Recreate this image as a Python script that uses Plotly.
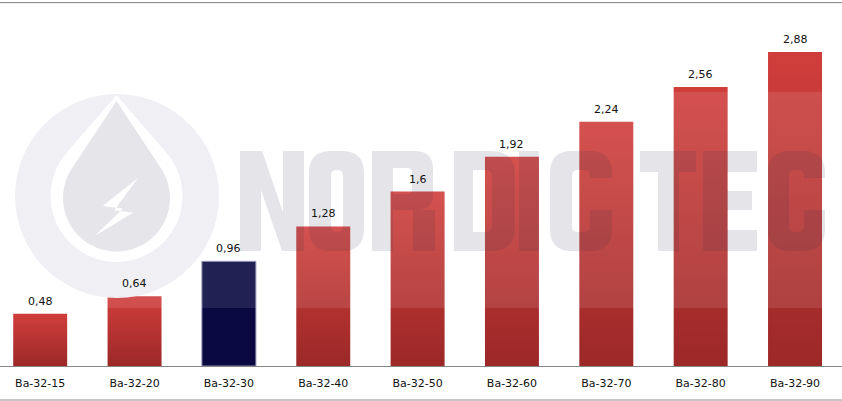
import plotly.graph_objects as go
import numpy as np

# data
models = ["Ba-32-15", "Ba-32-20", "Ba-32-30", "Ba-32-40", "Ba-32-50",
          "Ba-32-60", "Ba-32-70", "Ba-32-80", "Ba-32-90"]
capacity = [0.48, 0.64, 0.96, 1.28, 1.6, 1.92, 2.24, 2.56, 2.88]
highlight = "Ba-32-30"

W, H = 842, 401
TOP, BASE = 3, 366          # plot area rows in pixels
BAR_W = 0.572               # bar width in category units

RED_TOP, RED_BOTTOM = "#d03e3b", "#9c2828"
NAVY = "#0a0840"
WM_COLOR = "rgba(40,40,70,0.12)"


def to_paper(x, y):
    """pixel position -> paper coords of the plot area"""
    return f"{x / W:.5f},{(BASE - y) / (BASE - TOP):.5f}"


def rrect(x0, y0, x1, y1, r=(0, 0, 0, 0)):
    """rounded rectangle path (pixels), corners tl, tr, br, bl"""
    tl, tr, br, bl = r
    p = to_paper
    return (f"M{p(x0 + tl, y0)} L{p(x1 - tr, y0)} Q{p(x1, y0)} {p(x1, y0 + tr)} "
            f"L{p(x1, y1 - br)} Q{p(x1, y1)} {p(x1 - br, y1)} "
            f"L{p(x0 + bl, y1)} Q{p(x0, y1)} {p(x0, y1 - bl)} "
            f"L{p(x0, y0 + tl)} Q{p(x0, y0)} {p(x0 + tl, y0)} Z ")


def poly(points):
    return "M" + " L".join(to_paper(x, y) for x, y in points) + " Z "


def drop(cx, cy, r, tip_y, n=60):
    """water drop: tip on top, round bottom"""
    a = np.arccos(r / (cy - tip_y))
    th = np.linspace(a, 2 * np.pi - a, n)
    pts = [(cx, tip_y)] + [(cx + r * np.sin(t), cy - r * np.cos(t)) for t in th]
    return poly(pts)


fig = go.Figure()

# bars with a vertical gradient
for i, (m, v) in enumerate(zip(models, capacity)):
    hw = BAR_W / 2
    if m == highlight:
        grad = [[0, NAVY], [1, NAVY]]
        line = dict(color="rgba(140,140,175,1)", width=1)
    else:
        grad = [[0, RED_BOTTOM], [1, RED_TOP]]
        line = dict(width=0)
    fig.add_trace(go.Scatter(
        x=[i - hw, i - hw, i + hw, i + hw, i - hw],
        y=[0, v, v, 0, 0],
        mode="lines",
        fill="toself",
        fillgradient=dict(type="vertical", colorscale=grad, start=0, stop=v),
        line=line,
        hoverinfo="skip",
        showlegend=False
    ))

# value labels
for i, v in enumerate(capacity):
    fig.add_annotation(
        x=i, y=v, text=f"{v:g}".replace(".", ","),
        showarrow=False, yanchor="bottom", yshift=4,
        font=dict(family="DejaVu Sans", size=11, color="#111111")
    )

# watermark (logo + NORDIC TEC), drawn over the bars
shapes = []
y_a, y_b = (BASE - 92) / (BASE - TOP), (BASE - 308) / (BASE - TOP)
shapes.append(dict(type="rect", xref="paper", yref="paper", x0=0, x1=1, y0=y_b, y1=y_a,
                   fillcolor="rgba(255,255,255,0.1)", line_width=0, layer="above"))
cx, cy, rc = 117, 196, 102
shapes.append(dict(type="circle", xref="paper", yref="paper",
                   x0=(cx - rc) / W, x1=(cx + rc) / W,
                   y0=(BASE - cy - rc) / (BASE - TOP), y1=(BASE - cy + rc) / (BASE - TOP),
                   fillcolor="#f0eff3", line_width=0, layer="above"))
shapes.append(dict(type="path", path=drop(116.5, 196, 66, 95), xref="paper", yref="paper",
                   fillcolor="#ffffff", line_width=0, layer="above"))
shapes.append(dict(type="path", path=drop(116.5, 198, 53.5, 101), xref="paper", yref="paper",
                   fillcolor="#e6e6ea", line_width=0, layer="above"))
bolt = [(138.3, 177.7), (102.7, 206), (123, 208.5), (95, 235.7), (133.3, 212.5), (114, 210.5)]
shapes.append(dict(type="path", path=poly(bolt), xref="paper", yref="paper",
                   fillcolor="#ffffff", line_width=0, layer="above"))

T, B = 151, 251
letters = [
    # N
    poly([(240, B), (240, T), (262, T), (283, 212), (283, T), (304, T), (304, B),
          (282, B), (261, 190), (261, B)]),
    # O
    rrect(309, T, 364, B, (22, 22, 22, 22)) + rrect(331, 170, 343, 232, (6, 6, 6, 6)),
    # R
    rrect(372, T, 393, B) + rrect(393, T, 433, 210, (0, 18, 16, 0))
    + rrect(393, 168, 412, 194, (0, 5, 5, 0)) + rrect(413, 210, 435, B),
    # D
    rrect(454, T, 515, B, (0, 24, 24, 0)) + rrect(473, 170, 492, 232, (0, 7, 7, 0)),
    # I
    rrect(519, T, 539, B),
    # C
    rrect(550, T, 612, B, (22, 22, 22, 22)) + rrect(572, 170, 590, 232, (6, 6, 6, 6))
    + rrect(590, 178, 612, 210),
    # T
    poly([(640, T), (696, T), (696, 172), (679, 172), (679, B), (658, B), (658, 172), (640, 172)]),
    # E
    poly([(703, T), (757, T), (757, 172), (727, 172), (727, 191), (752, 191), (752, 210),
          (727, 210), (727, 230), (757, 230), (757, B), (703, B)]),
    # C
    rrect(768, T, 825, B, (22, 22, 22, 22)) + rrect(789, 170, 804, 232, (6, 6, 6, 6))
    + rrect(804, 178, 825, 210),
]
for path in letters:
    shapes.append(dict(type="path", path=path, xref="paper", yref="paper",
                       fillcolor=WM_COLOR, fillrule="evenodd", line_width=0, layer="above"))

# frame lines top and bottom
shapes.append(dict(type="line", xref="paper", yref="paper", x0=0, x1=1, y0=1.001, y1=1.001,
                   line=dict(color="#7f7f7f", width=1)))
yb = (BASE - 400) / (BASE - TOP)
shapes.append(dict(type="line", xref="paper", yref="paper", x0=0, x1=1, y0=yb, y1=yb,
                   line=dict(color="#8c8c8c", width=1)))

fig.update_layout(
    width=W, height=H,
    margin=dict(l=0, r=0, t=TOP, b=H - BASE, pad=0),
    plot_bgcolor="white",
    paper_bgcolor="white",
    shapes=shapes,
    xaxis=dict(
        range=[-0.426, 8.498],
        tickmode="array", tickvals=list(range(len(models))), ticktext=models,
        showgrid=False, zeroline=False,
        showline=True, linecolor="#868686", linewidth=1,
        ticks="", ticklabelstandoff=7,
        tickfont=dict(family="DejaVu Sans", size=11, color="#111111"),
        fixedrange=True
    ),
    yaxis=dict(range=[0, 3.33], visible=False, fixedrange=True),
    showlegend=False
)

# the page has a default 8px body margin; drop it so the chart fills the window
fig.write_html("out.html", config={"displayModeBar": False},
               post_script="document.body.style.margin = '0';")
